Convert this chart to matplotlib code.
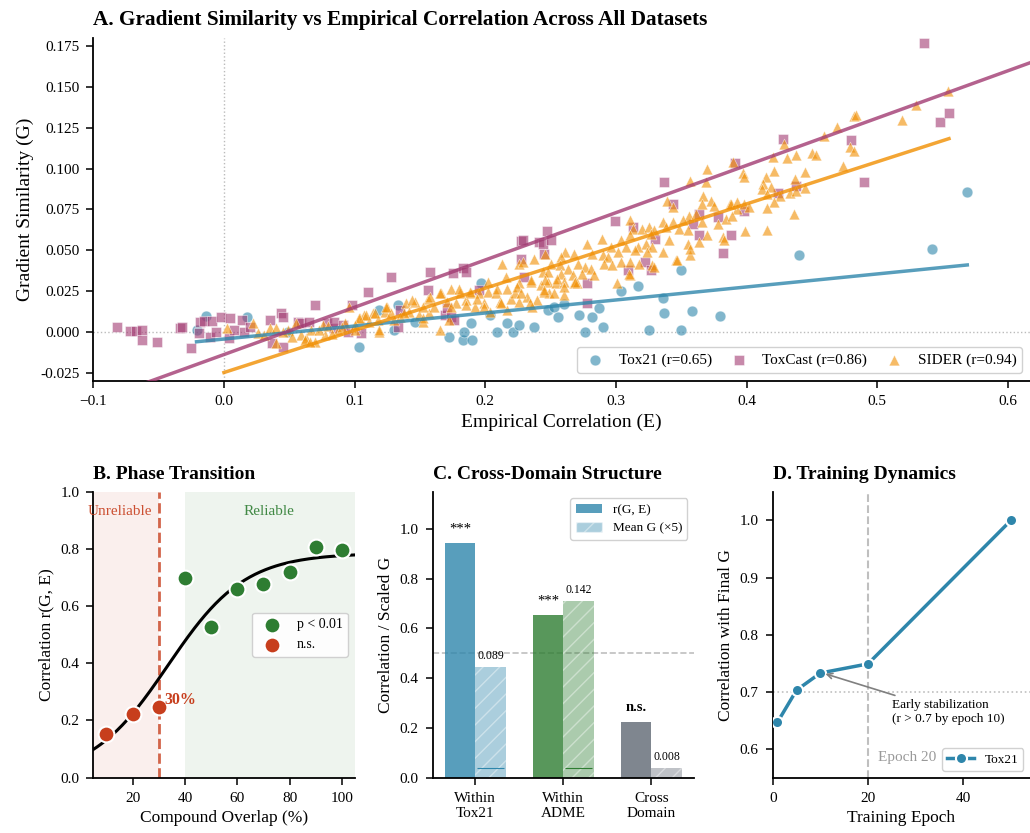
import numpy as np
import matplotlib
matplotlib.use('Agg')
import matplotlib.pyplot as plt
from matplotlib.patches import Patch

plt.rcParams['font.family'] = 'serif'
plt.rcParams['font.serif'] = ['Liberation Serif', 'DejaVu Serif']

# ---- panel A data (E, G) ----
tox21_pts = [(-0.014, 0.0098), (-0.021, 0.001), (0.018, 0.009), (0.049, 0.000), (0.103, -0.009),
             (0.119, 0.0134), (0.133, 0.0165), (0.130, 0.001), (0.146, 0.0063), (0.172, -0.003),
             (0.183, -0.005), (0.184, 0.000), (0.189, 0.0055), (0.190, -0.005), (0.197, 0.030),
             (0.204, 0.0104), (0.209, 0.000), (0.217, 0.0055), (0.221, 0.000), (0.226, 0.004),
             (0.237, 0.0032), (0.248, 0.0134), (0.253, 0.0154), (0.256, 0.0093), (0.260, 0.017),
             (0.272, 0.0104), (0.276, 0.000), (0.282, 0.009), (0.287, 0.0146), (0.290, 0.003),
             (0.304, 0.025), (0.317, 0.028), (0.325, 0.0012), (0.336, 0.021), (0.337, 0.0118),
             (0.350, 0.0378), (0.350, 0.0012), (0.358, 0.013), (0.380, 0.0098), (0.440, 0.047),
             (0.542, 0.0508), (0.569, 0.0856)]

toxcast_pts = [(-0.082, 0.0032), (-0.072, 0.0006), (-0.067, 0.0006), (-0.063, 0.001), (-0.063, -0.005),
               (-0.051, -0.0063), (-0.034, 0.0026), (-0.032, 0.0032), (-0.025, -0.0096), (-0.018, 0.006),
               (-0.019, -0.0006), (-0.015, 0.0069), (-0.011, -0.0029), (-0.009, 0.0069), (-0.002, 0.0093),
               (-0.006, 0.0002), (0.004, -0.0039), (0.005, 0.0085), (0.008, 0.0012), (0.014, 0.0073),
               (0.015, 0.0002), (0.020, 0.0032), (0.035, 0.0073), (0.044, 0.0116), (0.045, 0.0093),
               (0.045, -0.009), (0.037, -0.0067), (0.057, 0.0063), (0.059, 0.0055), (0.065, 0.0063),
               (0.070, 0.0165), (0.079, 0.0053), (0.084, 0.0024), (0.084, 0.0063), (0.091, 0.0043),
               (0.095, 0.0002), (0.098, 0.0165), (0.105, -0.0006), (0.110, 0.0246), (0.128, 0.0337),
               (0.133, 0.0032), (0.135, 0.0134), (0.156, 0.0256), (0.158, 0.0368), (0.169, 0.0104),
               (0.171, 0.0144), (0.174, 0.0093), (0.175, 0.036), (0.176, 0.0073), (0.183, 0.039),
               (0.185, 0.0368), (0.195, 0.0256), (0.227, 0.056), (0.227, 0.045), (0.229, 0.0565),
               (0.230, 0.0337), (0.241, 0.055), (0.244, 0.0537), (0.245, 0.048), (0.247, 0.0618),
               (0.250, 0.0565), (0.278, 0.030), (0.278, 0.0175), (0.299, 0.0677), (0.309, 0.0378),
               (0.313, 0.0642), (0.322, 0.0429), (0.327, 0.0378), (0.330, 0.0571), (0.337, 0.0917),
               (0.344, 0.0785), (0.359, 0.0663), (0.364, 0.0724), (0.364, 0.0591), (0.378, 0.0703),
               (0.382, 0.0484), (0.388, 0.0591), (0.391, 0.1032), (0.398, 0.074), (0.424, 0.085),
               (0.428, 0.118), (0.438, 0.0896), (0.480, 0.1175), (0.490, 0.092), (0.536, 0.177),
               (0.548, 0.1288), (0.555, 0.134)]

sider_pts = [(0.002, 0.0023), (0.022, 0.0057), (0.026, -0.0008), (0.031, -0.0018), (0.035, 0.0023),
             (0.040, 0.0023), (0.040, -0.0069), (0.049, 0.0012), (0.055, 0.0053), (0.059, -0.0018),
             (0.063, -0.0039), (0.067, 0.0012), (0.070, -0.0059), (0.076, 0.0043), (0.077, -0.0018),
             (0.087, 0.0012), (0.093, 0.0053), (0.096, 0.0154), (0.100, 0.0012), (0.104, 0.0083),
             (0.107, 0.0104), (0.111, 0.0063), (0.114, 0.0114), (0.118, 0.0073), (0.119, 0.0002),
             (0.123, 0.0124), (0.125, 0.0154), (0.128, 0.0114), (0.130, 0.0073), (0.135, 0.0093),
             (0.139, 0.0175), (0.142, 0.0124), (0.146, 0.0185), (0.149, 0.0104), (0.152, 0.0063),
             (0.156, 0.0205), (0.157, 0.0114), (0.161, 0.0154), (0.165, 0.0012), (0.166, 0.0236),
             (0.171, 0.0185), (0.174, 0.0266), (0.178, 0.0175), (0.181, 0.0236), (0.185, 0.0195),
             (0.189, 0.0236), (0.192, 0.0154), (0.195, 0.0236), (0.199, 0.0175), (0.202, 0.0246),
             (0.204, 0.0124), (0.208, 0.0236), (0.211, 0.0185), (0.213, 0.0419), (0.216, 0.0337),
             (0.217, 0.0266), (0.220, 0.0205), (0.223, 0.0236), (0.226, 0.0419), (0.226, 0.0297),
             (0.226, 0.0185), (0.045, 0.0003), (0.052, -0.0030), (0.062, -0.0050), (0.066, -0.0060),
             (0.073, 0.0010), (0.080, 0.0035), (0.083, -0.0010), (0.090, 0.0030),
             (0.229, 0.0429), (0.237, 0.045), (0.246, 0.048), (0.202, 0.0307), (0.180, 0.0266),
             (0.188, 0.0246), (0.165, 0.0236), (0.158, 0.0215), (0.144, 0.0195), (0.124, 0.0154),
             (0.116, 0.0114), (0.109, 0.0104), (0.103, 0.0083), (0.100, 0.0043), (0.119, 0.0012),
             (0.212, 0.0175), (0.217, 0.0134), (0.232, 0.0215), (0.240, 0.0195), (0.243, 0.0287),
             (0.235, 0.0307), (0.224, 0.0276), (0.248, 0.0307), (0.244, 0.0368), (0.249, 0.0236),
             (0.209, 0.0266), (0.194, 0.0205), (0.199, 0.0154), (0.185, 0.0165), (0.174, 0.0154),
             (0.152, 0.0154), (0.138, 0.0114), (0.152, 0.0083), (0.172, 0.0073), (0.236, 0.0154),
             (0.370, 0.0998), (0.357, 0.0923), (0.369, 0.0917), (0.390, 0.1039), (0.339, 0.0805),
             (0.344, 0.0764), (0.367, 0.0835), (0.366, 0.0785), (0.373, 0.0805), (0.375, 0.0774),
             (0.387, 0.0785), (0.393, 0.0754), (0.356, 0.0713), (0.361, 0.0724), (0.366, 0.0673),
             (0.378, 0.0663), (0.384, 0.0693), (0.389, 0.0713), (0.311, 0.0683), (0.313, 0.0632),
             (0.320, 0.0632), (0.325, 0.0642), (0.329, 0.0622), (0.336, 0.0673), (0.344, 0.0673),
             (0.351, 0.0683), (0.338, 0.0642), (0.348, 0.0632), (0.355, 0.0622), (0.382, 0.0581),
             (0.370, 0.0591), (0.289, 0.0571), (0.304, 0.0561), (0.278, 0.0541), (0.296, 0.052),
             (0.308, 0.052), (0.317, 0.052), (0.323, 0.0541), (0.328, 0.052), (0.341, 0.0561),
             (0.355, 0.0541), (0.364, 0.055), (0.302, 0.049), (0.315, 0.05), (0.324, 0.049),
             (0.336, 0.049), (0.346, 0.0439), (0.357, 0.047), (0.261, 0.049), (0.268, 0.048),
             (0.282, 0.048), (0.290, 0.047), (0.294, 0.0459), (0.258, 0.0459), (0.250, 0.0419),
             (0.257, 0.0409), (0.263, 0.0388), (0.271, 0.0419), (0.276, 0.0398), (0.281, 0.0388),
             (0.291, 0.0419), (0.297, 0.0409), (0.304, 0.0429), (0.311, 0.0429), (0.318, 0.0419),
             (0.328, 0.0409), (0.248, 0.0368), (0.258, 0.0358), (0.267, 0.0348), (0.274, 0.0358),
             (0.283, 0.0348), (0.311, 0.0348), (0.246, 0.0317), (0.254, 0.0297), (0.260, 0.0307),
             (0.268, 0.0297), (0.301, 0.0297), (0.253, 0.0236), (0.260, 0.0226), (0.245, 0.0246),
             (0.554, 0.1476), (0.530, 0.139), (0.519, 0.130), (0.482, 0.1323), (0.484, 0.133),
             (0.469, 0.1252), (0.459, 0.120), (0.429, 0.115), (0.479, 0.1134), (0.482, 0.111),
             (0.438, 0.1085), (0.431, 0.1065), (0.450, 0.1093), (0.453, 0.1085), (0.420, 0.1069),
             (0.474, 0.1018), (0.397, 0.0971), (0.398, 0.0947), (0.415, 0.0951), (0.421, 0.0988),
             (0.445, 0.0978), (0.437, 0.0937), (0.413, 0.0907), (0.412, 0.0876), (0.419, 0.0886),
             (0.416, 0.0846), (0.426, 0.0835), (0.433, 0.085), (0.438, 0.0866), (0.445, 0.0882),
             (0.421, 0.0795), (0.416, 0.076), (0.436, 0.0724), (0.388, 0.0785), (0.393, 0.0795),
             (0.398, 0.0785), (0.402, 0.0768), (0.399, 0.0618), (0.416, 0.0622),
             (0.311, 0.0591), (0.327, 0.0602), (0.357, 0.051), (0.383, 0.0561), (0.347, 0.0439),
             (0.329, 0.0398), (0.310, 0.0358), (0.270, 0.0297), (0.255, 0.0327), (0.235, 0.0317),
             (0.227, 0.0236), (0.234, 0.0175), (0.245, 0.0256), (0.260, 0.0276), (0.269, 0.0307)]

# regression lines as shown (slope, intercept, x-range)
fit_slope = [0.0797, 0.2895, 0.258]
fit_intercept = [-0.0043, -0.0138, -0.0248]
fit_range = [(-0.021, 0.569), (-0.1, 0.62), (0.0, 0.555)]
r_values = [0.65, 0.86, 0.94]
names = ['Tox21', 'ToxCast', 'SIDER']
markers = ['o', 's', '^']
colors = ['#2E86AB', '#A23B72', '#F18F01']

# ---- panel B ----
overlap = [10, 20, 30, 40, 50, 60, 70, 80, 90, 100]
overlap_r = [0.153, 0.222, 0.248, 0.697, 0.528, 0.659, 0.677, 0.720, 0.806, 0.795]
significant = [False, False, False, True, True, True, True, True, True, True]
sig_L, sig_k, sig_x0 = 0.785, 0.068, 33.5

# ---- panel C ----
domains = ['Within\nTox21', 'Within\nADME', 'Cross\nDomain']
domain_r = [0.945, 0.655, 0.225]
mean_g = [0.089, 0.142, 0.008]
domain_sig = ['***', '***', 'n.s.']
domain_colors = ['#2E86AB', '#2E7D32', '#5F6873']

# ---- panel D ----
epochs = [1, 5, 10, 20, 50]
epoch_corr = [0.647, 0.703, 0.733, 0.749, 1.0]

fig = plt.figure(figsize=(10.3, 8.33), dpi=100)

def clean(ax):
    ax.spines['top'].set_visible(False)
    ax.spines['right'].set_visible(False)
    ax.spines['left'].set_linewidth(1.3)
    ax.spines['bottom'].set_linewidth(1.3)
    ax.tick_params(labelsize=11, width=1.1, length=5, pad=5)

# ===== A =====
axA = fig.add_axes([0.0906, 0.5426, 0.9094, 0.4118])
axA.axvline(0, color='#bbbbbb', ls=':', lw=1, zorder=0)
axA.axhline(0, color='#bbbbbb', ls=':', lw=1, zorder=0)
for pts, nm, mk, c, r in zip([tox21_pts, toxcast_pts, sider_pts], names, markers, colors, r_values):
    arr = np.array(pts)
    axA.scatter(arr[:, 0], arr[:, 1], marker=mk, s=60, color=c, alpha=0.6,
                edgecolor='white', linewidth=0.5, label=f'{nm} (r={r:.2f})', zorder=2)
for sl, ic, (lo, hi), c in zip(fit_slope, fit_intercept, fit_range, colors):
    xs = np.array([lo, hi])
    axA.plot(xs, sl * xs + ic, color=c, lw=2.5, alpha=0.8, zorder=3)
axA.set_xlim(-0.1, 0.617)
axA.set_ylim(-0.030, 0.18)
axA.set_yticks(np.arange(-0.025, 0.176, 0.025))
axA.yaxis.set_major_formatter(matplotlib.ticker.FormatStrFormatter('%.3f'))
axA.set_xlabel('Empirical Correlation (E)', fontsize=14)
axA.set_ylabel('Gradient Similarity (G)', fontsize=14)
axA.set_title('A. Gradient Similarity vs Empirical Correlation Across All Datasets',
              loc='left', fontsize=15.3, fontweight='bold', pad=9)
axA.legend(loc='lower right', ncol=3, fontsize=11, framealpha=0.9, edgecolor='#cccccc',
           handlelength=1.5, columnspacing=1.0)
clean(axA)

# ===== B =====
axB = fig.add_axes([0.0906, 0.0664, 0.2541, 0.3433])
axB.axvspan(5, 30, color='#C73E1D', alpha=0.08, lw=0)
axB.axvspan(40, 105, color='#2E7D32', alpha=0.08, lw=0)
xs = np.linspace(5, 105, 200)
axB.plot(xs, sig_L / (1 + np.exp(-sig_k * (xs - sig_x0))), color='black', lw=2.2, zorder=2)
axB.axvline(30, color='#C73E1D', ls='--', lw=2, alpha=0.8, zorder=1)
ov = np.array(overlap)
orr = np.array(overlap_r)
sg = np.array(significant)
axB.scatter(ov[sg], orr[sg], s=130, color='#2E7D32', edgecolor='white', linewidth=1.5,
            label='p < 0.01', zorder=3)
axB.scatter(ov[~sg], orr[~sg], s=130, color='#C73E1D', edgecolor='white', linewidth=1.5,
            label='n.s.', zorder=3)
axB.text(32, 0.27, '30%', color='#C73E1D', fontsize=11.5, fontweight='bold', va='center')
axB.text(15, 0.93, 'Unreliable', color='#C73E1D', fontsize=11, ha='center', va='center', alpha=0.9)
axB.text(72, 0.93, 'Reliable', color='#2E7D32', fontsize=11, ha='center', va='center', alpha=0.9)
axB.set_xlim(5, 105)
axB.set_ylim(0, 1.0)
axB.set_xticks([20, 40, 60, 80, 100])
axB.set_xlabel('Compound Overlap (%)', fontsize=12.5)
axB.set_ylabel('Correlation r(G, E)', fontsize=12.5)
axB.set_title('B. Phase Transition', loc='left', fontsize=14, fontweight='bold', pad=9)
axB.legend(loc='center right', bbox_to_anchor=(1.0, 0.5), fontsize=10, framealpha=0.9,
           edgecolor='#cccccc')
clean(axB)

# ===== C =====
axC = fig.add_axes([0.4201, 0.0664, 0.2537, 0.3433])
x = np.arange(len(domains))
w = 0.35
axC.axhline(0.5, color='gray', ls='--', lw=1.2, alpha=0.5, zorder=0)
for i in range(len(domains)):
    axC.bar(x[i] - w / 2, domain_r[i], w, color=domain_colors[i], alpha=0.8, zorder=2)
    axC.bar(x[i] + w / 2, mean_g[i] * 5, w, color=domain_colors[i], alpha=0.4,
            hatch='//', edgecolor='white', lw=0, zorder=2)
    axC.text(x[i] + w / 2, mean_g[i] * 5 + 0.02, f'{mean_g[i]:.3f}', ha='center', va='bottom', fontsize=8.5)
    axC.text(x[i] - w / 2, domain_r[i] + 0.03, domain_sig[i], ha='center', va='bottom', fontsize=10.5,
             fontweight='bold' if domain_sig[i] == 'n.s.' else 'normal')
    if i < 2:
        axC.hlines(mean_g[2] * 5, x[i] + 0.02, x[i] + w - 0.02, color=domain_colors[i], lw=0.8, zorder=3)
axC.set_xticks(x)
axC.set_xticklabels(domains)
axC.set_ylim(0, 1.15)
axC.set_ylabel('Correlation / Scaled G', fontsize=12.5)
axC.set_title('C. Cross-Domain Structure', loc='left', fontsize=14, fontweight='bold', pad=9)
handles = [Patch(facecolor='#2E86AB', alpha=0.8, label='r(G, E)'),
           Patch(facecolor='#2E86AB', alpha=0.4, hatch='//', edgecolor='white', label='Mean G (×5)')]
axC.legend(handles=handles, loc='upper right', fontsize=9.5, framealpha=0.9, edgecolor='#cccccc')
clean(axC)

# ===== D =====
axD = fig.add_axes([0.7502, 0.0664, 0.2498, 0.3433])
axD.axvline(20, color='gray', ls='--', lw=1.5, alpha=0.5, zorder=0)
axD.axhline(0.7, color='gray', ls=':', lw=1.2, alpha=0.5, zorder=0)
axD.plot(epochs, epoch_corr, 'o-', color='#2E86AB', lw=2.5, ms=8, mec='white', mew=1.5,
         label='Tox21', zorder=3)
axD.annotate('Early stabilization\n(r > 0.7 by epoch 10)', xy=(10.5, 0.733), xytext=(25, 0.665),
             fontsize=9.5, va='center', ha='left',
             arrowprops=dict(arrowstyle='->', color='gray', lw=1.2))
axD.text(22, 0.585, 'Epoch 20', color='gray', fontsize=11, va='center', alpha=0.8)
axD.set_xlim(0, 54)
axD.set_ylim(0.55, 1.05)
axD.set_xticks([0, 20, 40])
axD.set_yticks([0.6, 0.7, 0.8, 0.9, 1.0])
axD.set_xlabel('Training Epoch', fontsize=12.5)
axD.set_ylabel('Correlation with Final G', fontsize=12.5)
axD.set_title('D. Training Dynamics', loc='left', fontsize=14, fontweight='bold', pad=9)
axD.legend(loc='lower right', fontsize=9.5, framealpha=0.9, edgecolor='#cccccc')
clean(axD)

fig.savefig('out.png', dpi=100)
